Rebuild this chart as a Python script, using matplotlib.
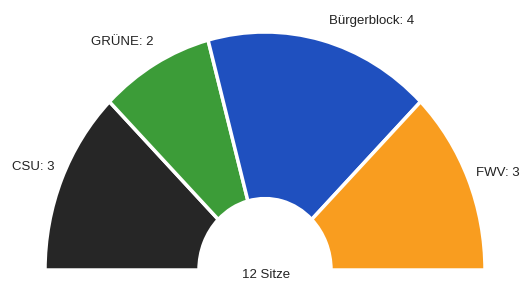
import matplotlib.pyplot as plt
import numpy as np

parties = ["CSU", "GRÜNE", "Bürgerblock", "FWV"]
seats = [3, 2, 4, 3]
colors = ["#262626", "#3c9c38", "#1f50bf", "#f99d1f"]
total_label = f"{sum(seats)} Sitze"

W, H = 523, 282
# centre of the half ring and its radii, in pixels
cx, cy = 265, 12
rx, ry = 220, 238

fig = plt.figure(figsize=(W / 100, H / 100), dpi=100)
ax = fig.add_axes([0, 0, 1, 1])

fracs = np.array(seats) / (2 * sum(seats))
ax.pie(
    fracs,
    colors=colors,
    startangle=180,
    counterclock=False,
    normalize=False,
    radius=1,
    wedgeprops=dict(width=0.70, edgecolor="white", linewidth=2.5),
)
ax.set_aspect("auto")
ax.set_xlim(-cx / rx, (W - cx) / rx)
ax.set_ylim(-cy / ry, (H - cy) / ry)
ax.axis("off")

# label positions (pixels from top-left)
label_pos = [(12, 167), (91, 42), (329, 21), (476, 173)]
for (x, y), name, n in zip(label_pos, parties, seats):
    fig.text(x / W, 1 - y / H, f"{name}: {n}", ha="left", va="center",
             fontsize=9.5, family="Liberation Sans", color="#222222")

fig.text(266 / W, 1 - 275 / H, total_label, ha="center", va="center",
         fontsize=9.5, family="Liberation Sans", color="#222222")

fig.savefig("out.png", dpi=100)
